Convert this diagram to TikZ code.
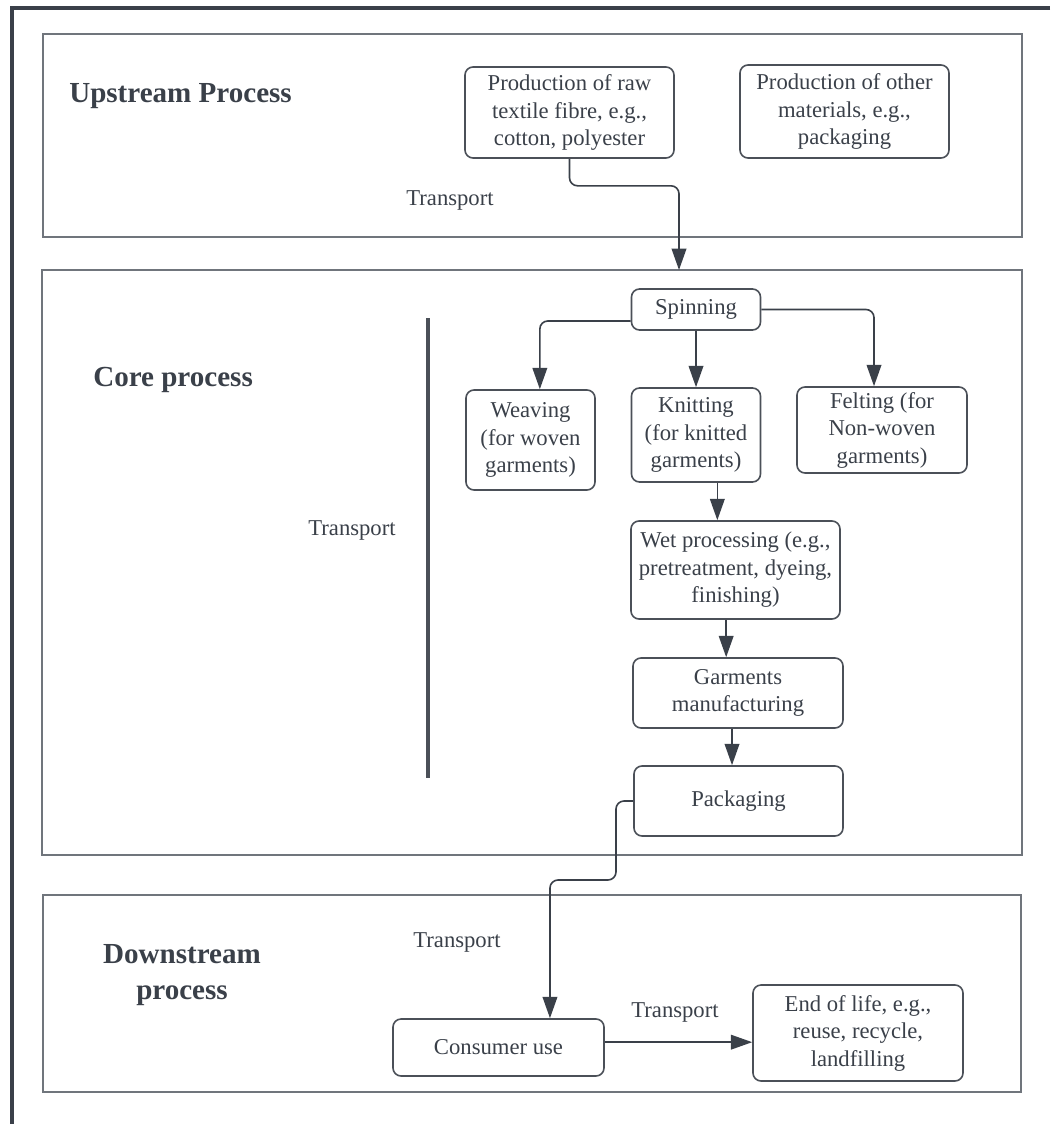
\documentclass[tikz,border=0pt]{standalone}
\usepackage{fontspec}
\setmainfont{Liberation Serif}
\usepackage{tikz}
\usetikzlibrary{arrows.meta}

\definecolor{inkdark}{RGB}{58,64,73}
\definecolor{panelgrey}{RGB}{112,117,124}
\definecolor{boxgrey}{RGB}{75,80,88}

\tikzset{
  procbox/.style={draw=boxgrey, line width=1.2pt, rounded corners=6pt, align=center,
    inner sep=0pt, text=inkdark, font=\fontsize{17}{20.6}\selectfont},
  flow/.style={draw=inkdark, line width=1.2pt, rounded corners=6pt,
    -{Triangle[length=16pt,width=11pt]}},
  panel/.style={draw=panelgrey, line width=1.6pt},
  heading/.style={inner sep=0.75pt, text=inkdark, font=\fontsize{21.8}{26.5}\selectfont\bfseries},
  lbl/.style={inner sep=0.75pt, text=inkdark, font=\fontsize{17}{20.6}\selectfont}
}

\begin{document}
\begin{tikzpicture}[x=0.75pt,y=0.75pt,yscale=-1,xscale=1]
\useasboundingbox (0,0) rectangle (1050,1124);

%Outer frame
\draw [color=inkdark, line width=3pt] (1050,8) -- (12,8) -- (12,1124) ;

%Panels
\draw [panel] (43,34) rectangle (1022,237) ;
\draw [panel] (42,270) rectangle (1022,855) ;
\draw [panel] (43,895) rectangle (1021,1092) ;

%Straight Lines
\draw [color=boxgrey, line width=2.8pt] (428,318) -- (428,778) ;

% Text Node
\node (uphead) at (68,96) [heading, anchor=west] {Upstream Process};
% Text Node
\node (corehead) at (92,380) [heading, anchor=west] {Core process};
% Text Node
\node (downhead) at (182,975) [heading, align=center] {Downstream\\process};

% Text Node
\node (tupper) at (450,200) [lbl] {Transport};
% Text Node
\node (tcore) at (352,530) [lbl] {Transport};
% Text Node
\node (tdown) at (457,942) [lbl] {Transport};
% Text Node
\node (tend) at (675,1012) [lbl] {Transport};

%Process boxes
\node (raw) at (569.5,112.5) [procbox, minimum width=156.75pt, minimum height=68.25pt] {Production of raw\\textile fibre, e.g.,\\cotton, polyester};
\node (other) at (844.5,111.5) [procbox, minimum width=156.75pt, minimum height=69.75pt] {Production of other\\materials, e.g.,\\packaging};
\node (spin) at (696,309.5) [procbox, minimum width=96.75pt, minimum height=30.75pt] {Spinning};
\node (weave) at (530.5,440) [procbox, minimum width=96.75pt, minimum height=75pt] {Weaving\\(for woven\\garments)};
\node (knit) at (696,435) [procbox, minimum width=96.75pt, minimum height=70.5pt] {Knitting\\(for knitted\\garments)};
\node (felt) at (882,430) [procbox, minimum width=127.5pt, minimum height=64.5pt] {Felting (for\\Non-woven\\garments)};
\node (wet) at (735.5,570) [procbox, minimum width=156.75pt, minimum height=73.5pt] {Wet processing (e.g.,\\pretreatment, dyeing,\\finishing)};
\node (garm) at (738,693) [procbox, minimum width=157.5pt, minimum height=52.5pt] {Garments\\manufacturing};
\node (pack) at (738.5,801) [procbox, minimum width=156.75pt, minimum height=52.5pt] {Packaging};
\node (cons) at (498.5,1047.5) [procbox, minimum width=158.25pt, minimum height=42.75pt] {Consumer use};
\node (eol) at (858,1033) [procbox, minimum width=157.5pt, minimum height=72pt] {End of life, e.g.,\\reuse, recycle,\\landfilling};

\coordinate (coretop) at (679,270);
\coordinate (bend) at (616,880);

%Connectors
\draw [flow] (raw.south) -- ++(0,27) -| (coretop) ;
\draw [flow] ([yshift=8.6pt]spin.west) -| ([xshift=7pt]weave.north) ;
\draw [flow] (spin.south) -- (knit.north) ;
\draw [flow] (spin.east) -| ([xshift=-6pt]felt.north) ;
\draw [flow] ([xshift=16pt]knit.south) -- ([xshift=16pt]knit.south |- wet.north) ;
\draw [flow] ([xshift=-7pt]wet.south) -- ([xshift=-7pt]wet.south |- garm.north) ;
\draw [flow] ([xshift=-4.5pt]garm.south) -- ([xshift=-4.5pt]garm.south |- pack.north) ;
\draw [flow] (pack.west) -| (bend) -| ([xshift=38.6pt]cons.north) ;
\draw [flow] ([yshift=-4pt]cons.east) -- ([yshift=-4pt]cons.east -| eol.west) ;

\end{tikzpicture}
\end{document}
